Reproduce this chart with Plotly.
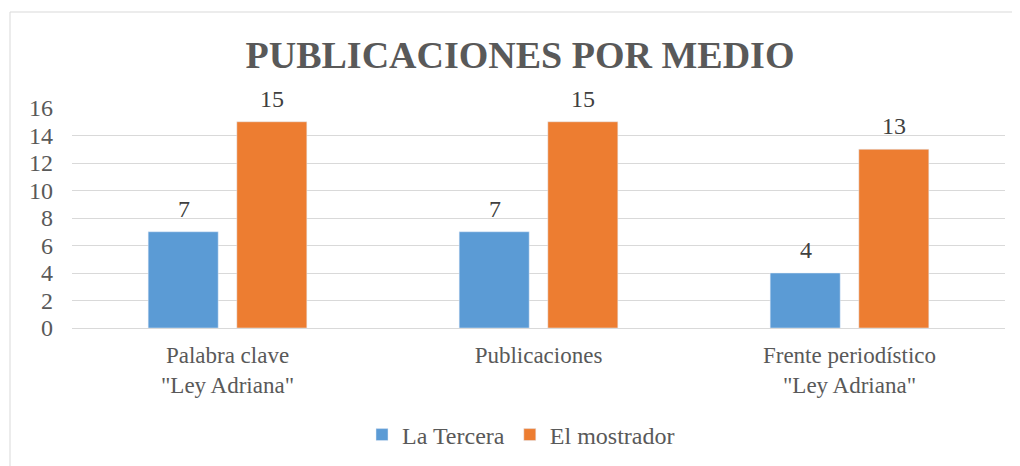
import plotly.graph_objects as go

categories = ["Palabra clave<br>\"Ley Adriana\"", "Publicaciones", "Frente periodístico<br>\"Ley Adriana\""]
la_tercera = [7, 7, 4]
el_mostrador = [15, 15, 13]
series_names = ["La Tercera", "El mostrador"]
tick_vals = [0, 2, 4, 6, 8, 10, 12, 14, 16]

# page body has an 8px margin, so the figure is drawn 8px in from the corner
OFF = 8
W, H = 1020 - OFF, 466 - OFF
L, R, T, B = 72 - OFF, 15, 108 - OFF, 138
pw, ph = W - L - R, H - T - B

font_fam = "Liberation Serif, Times New Roman, serif"

fig = go.Figure()
fig.add_trace(go.Bar(name=series_names[0], x=categories, y=la_tercera, marker_color="#5B9BD5"))
fig.add_trace(go.Bar(name=series_names[1], x=categories, y=el_mostrador, marker_color="#ED7D31"))

# value labels above each bar
for series, shift in ((la_tercera, -44), (el_mostrador, 44)):
    for cat, val in zip(categories, series):
        fig.add_annotation(x=cat, y=val, text=str(val), showarrow=False,
                           xshift=shift, yshift=8, yanchor="bottom",
                           font=dict(size=24, color="#404040", family=font_fam))

def px_x(p):
    return (p - OFF - L) / pw

def px_y(p):
    return (H - B - (p - OFF)) / ph

fig.add_shape(type="rect", xref="paper", yref="paper",
              x0=px_x(10), x1=px_x(1040), y0=px_y(490), y1=px_y(12),
              line=dict(color="#D9D9D9", width=1), fillcolor="rgba(0,0,0,0)", layer="below")

fig.update_layout(
    width=W, height=H,
    margin=dict(l=L, r=R, t=T, b=B, autoexpand=False),
    paper_bgcolor="white", plot_bgcolor="white",
    barmode="group", bargap=0.43, bargroupgap=0.21,
    title=dict(text="<b>PUBLICACIONES POR MEDIO</b>", x=(520 - OFF) / W, xanchor="center",
               y=1 - (55 - OFF) / H, yanchor="middle",
               font=dict(size=38, color="#595959", family=font_fam)),
    font=dict(family=font_fam, color="#595959", size=24),
    legend=dict(orientation="h", x=px_x(521), xanchor="center", y=px_y(435), yanchor="middle",
                font=dict(size=24, color="#595959"), itemwidth=30, tracegroupgap=0),
    showlegend=True,
)
fig.update_yaxes(range=[0, 16], tickvals=tick_vals, showgrid=True, gridcolor="#D9D9D9",
                 gridwidth=1, zeroline=False, showline=False, ticks="", automargin=False,
                 tickfont=dict(size=24, color="#595959"), ticklabelstandoff=18)
fig.update_xaxes(showline=True, linecolor="#D9D9D9", linewidth=1, ticks="", automargin=False,
                 tickfont=dict(size=23, color="#595959"), ticklabelstandoff=6)

fig.write_html("out.html")
